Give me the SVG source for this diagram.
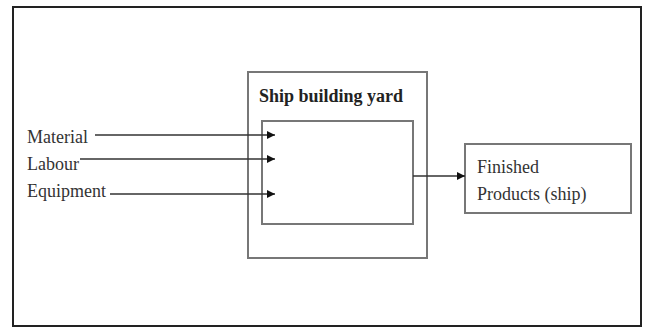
<svg xmlns="http://www.w3.org/2000/svg" width="645" height="328" viewBox="0 0 645 328">
<defs>
<marker id="ah" markerWidth="8" markerHeight="8" refX="8" refY="4" orient="auto" markerUnits="userSpaceOnUse">
<path d="M0,0 L8,4 L0,8 Z" fill="#111"/>
</marker>
<style>
.lbl{font-family:"Liberation Serif","Times New Roman",serif;font-size:18px;fill:#333}
.ttl{font-family:"Liberation Serif","Times New Roman",serif;font-size:18px;font-weight:bold;fill:#222}
.box{fill:none;stroke:#777;stroke-width:2}
.con{fill:none;stroke:#333;stroke-width:1.3;marker-end:url(#ah)}
</style>
</defs>
<rect width="645" height="328" fill="#fff"/>
<rect x="13" y="7" width="628" height="319" fill="none" stroke="#222" stroke-width="2"/>
<g id="yard">
<rect class="box" x="248" y="72" width="179" height="186"/>
<text class="ttl" x="259" y="102">Ship building yard</text>
</g>
<g id="process">
<rect class="box" x="262" y="121" width="151" height="103"/>
</g>
<g id="inputs">
<text class="lbl" x="27" y="143">Material</text>
<text class="lbl" x="27" y="170">Labour</text>
<text class="lbl" x="27" y="197">Equipment</text>
</g>
<g id="finished">
<rect class="box" x="465" y="144" width="166" height="69"/>
<text class="lbl" x="477" y="173">Finished</text>
<text class="lbl" x="477" y="200">Products (ship)</text>
</g>
<g id="connectors">
<line class="con" x1="95" y1="135" x2="275" y2="135"/>
<line class="con" x1="80" y1="159" x2="275" y2="159"/>
<line class="con" x1="110" y1="194" x2="275" y2="194"/>
<line class="con" x1="413" y1="176" x2="465" y2="176"/>
</g>
</svg>
